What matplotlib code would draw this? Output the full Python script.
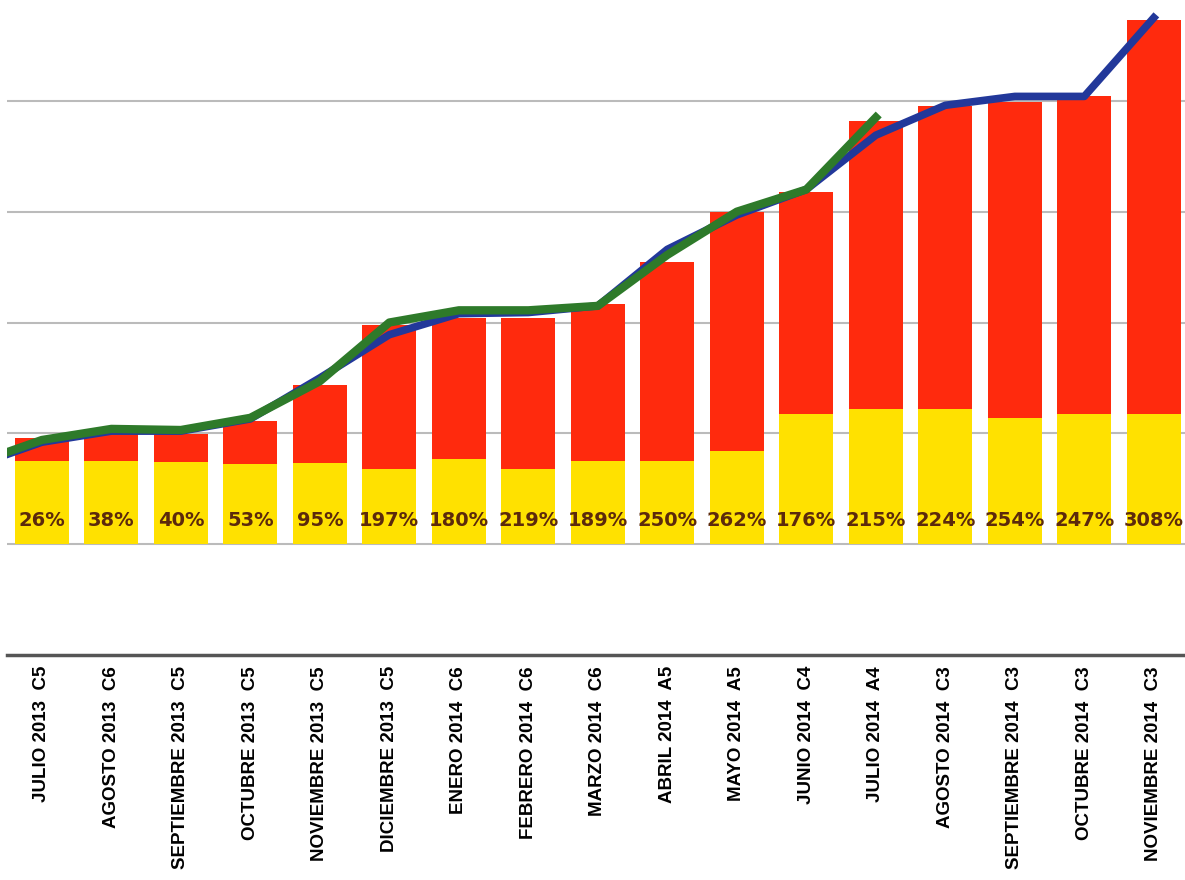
import matplotlib.pyplot as plt
import numpy as np

meses = ['JULIO 2013  C5', 'AGOSTO 2013  C6', 'SEPTIEMBRE 2013  C5', 'OCTUBRE 2013  C5',
         'NOVIEMBRE 2013  C5', 'DICIEMBRE 2013  C5', 'ENERO 2014  C6', 'FEBRERO 2014  C6',
         'MARZO 2014  C6', 'ABRIL 2014  A5', 'MAYO 2014  A5', 'JUNIO 2014  C4',
         'JULIO 2014  A4', 'AGOSTO 2014  C3', 'SEPTIEMBRE 2014  C3', 'OCTUBRE 2014  C3',
         'NOVIEMBRE 2014  C3']
porcentajes = ['26%', '38%', '40%', '53%', '95%', '197%', '180%', '219%', '189%',
               '250%', '262%', '176%', '215%', '224%', '254%', '247%', '308%']

# base (amarillo) y total de la barra
amarillo = [75, 75, 74, 72, 73, 68, 77, 68, 75, 75, 84, 117, 122, 122, 114, 117, 117]
total = [96, 100, 99, 111, 144, 198, 204, 204, 217, 255, 300, 318, 382, 395, 399, 404, 473]
rojo = [t - a for t, a in zip(total, amarillo)]

# lineas (primer punto = mes anterior, fuera del grafico)
linea_azul = [70, 92, 102, 102, 113, 150, 189, 208, 209, 215, 266, 297, 320, 369, 396, 404, 404, 475]
linea_verde = [72, 94, 104, 103, 114, 147, 200, 211, 211, 215, 261, 300, 320, 385]

fig = plt.figure(figsize=(11.85, 8.8), dpi=100)
ax = fig.add_axes([0.006, 0.2557, 0.997, 0.7443])

x = np.arange(len(meses))
ax.bar(x, amarillo, width=0.78, color='#FFE100', zorder=2)
ax.bar(x, rojo, width=0.78, bottom=amarillo, color='#FF2A0D', zorder=2)

ax.plot(np.arange(-1, len(linea_azul) - 1), linea_azul, color='#22389A', lw=5.5, zorder=3,
        solid_joinstyle='round')
ax.plot(np.arange(-1, len(linea_verde) - 1), linea_verde, color='#2E7A2A', lw=6, zorder=4,
        solid_joinstyle='round')

for i, p in enumerate(porcentajes):
    ax.text(i, 21, p, ha='center', va='center', fontsize=14, fontweight='bold',
            color='#5C2A0C', zorder=5)

ax.set_xlim(-0.5, len(meses) - 0.5)
ax.set_ylim(-100, 491)
ax.set_yticks([0, 100, 200, 300, 400])
ax.yaxis.grid(True, color='#BBBBBB', lw=1.5, zorder=0)
ax.tick_params(axis='y', left=False, labelleft=False)
ax.set_xticks(x)
ax.set_xticklabels(meses, rotation=90, fontsize=13.5, family='Liberation Sans',
                   fontweight='bold', va='top', ha='center')
ax.tick_params(axis='x', length=0, pad=8)
for s in ['left', 'right', 'top']:
    ax.spines[s].set_visible(False)
ax.spines['bottom'].set_color('#555555')
ax.spines['bottom'].set_linewidth(2.5)

plt.savefig('out.png', dpi=100)
